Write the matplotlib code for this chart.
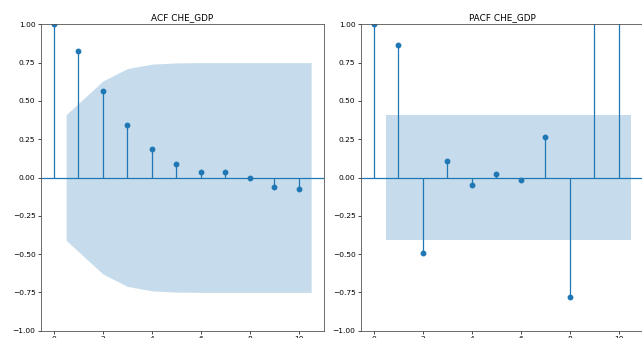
import numpy as np
import matplotlib.pyplot as plt

# lag values
lags = np.arange(0, 11)
acf_vals = [1.0, 0.827, 0.567, 0.341, 0.184, 0.085, 0.033, 0.039, -0.004, -0.063, -0.072]
acf_conf = [0.41, 0.63, 0.711, 0.74, 0.748, 0.75, 0.75, 0.75, 0.75, 0.75]  # lags 1..10
pacf_vals = [1.0, 0.864, -0.495, 0.105, -0.048, 0.022, -0.015, 0.263, -0.779, 1.6, 1.9]  # last two run off the top
pacf_conf = [0.41, 0.41, 0.41, 0.41, 0.41, 0.41, 0.41, 0.41, 0.41, 0.41]
titles = ["ACF CHE_GDP", "PACF CHE_GDP"]

W, H = 642, 338
fig = plt.figure(figsize=(W / 100, H / 100), dpi=100)

ax_w = 283 / W
ax_b = (H - 330.7) / H
ax_h = (330.7 - 24.3) / H
lefts = [41 / W, 361 / W]


def draw_corr(ax, vals, conf, title):
    ax.vlines(lags, 0, vals, color="C0", lw=0.9)
    ax.plot(lags, vals, "o", color="C0", ms=3.2, clip_on=True)
    ax.axhline(0, color="C0", lw=0.9)
    # band spans lag 1..10, ends pushed out by half a lag
    band_x = lags[1:].astype(float)
    band_x[0] -= 0.5
    band_x[-1] += 0.5
    conf = np.array(conf)
    ax.fill_between(band_x, -conf, conf, color="C0", alpha=0.25, lw=0)
    ax.set_xlim(-0.525, 11.025)
    ax.set_ylim(-1.0, 1.0)
    ax.set_xticks([0, 2, 4, 6, 8, 10])
    ax.set_yticks(np.arange(-1.0, 1.01, 0.25))
    ax.set_yticklabels([f"{v:.2f}".replace("-", "\u2212") for v in np.arange(-1.0, 1.01, 0.25)])
    ax.tick_params(labelsize=5.4, length=2.2, width=0.5, pad=1.8)
    for s in ax.spines.values():
        s.set_linewidth(0.6)
        s.set_color("#555555")
    ax.set_title(title, fontsize=6.4, pad=3)


for left, vals, conf, title in zip(lefts, [acf_vals, pacf_vals], [acf_conf, pacf_conf], titles):
    ax = fig.add_axes([left, ax_b, ax_w, ax_h])
    draw_corr(ax, vals, conf, title)

fig.savefig("out.png", dpi=100)
